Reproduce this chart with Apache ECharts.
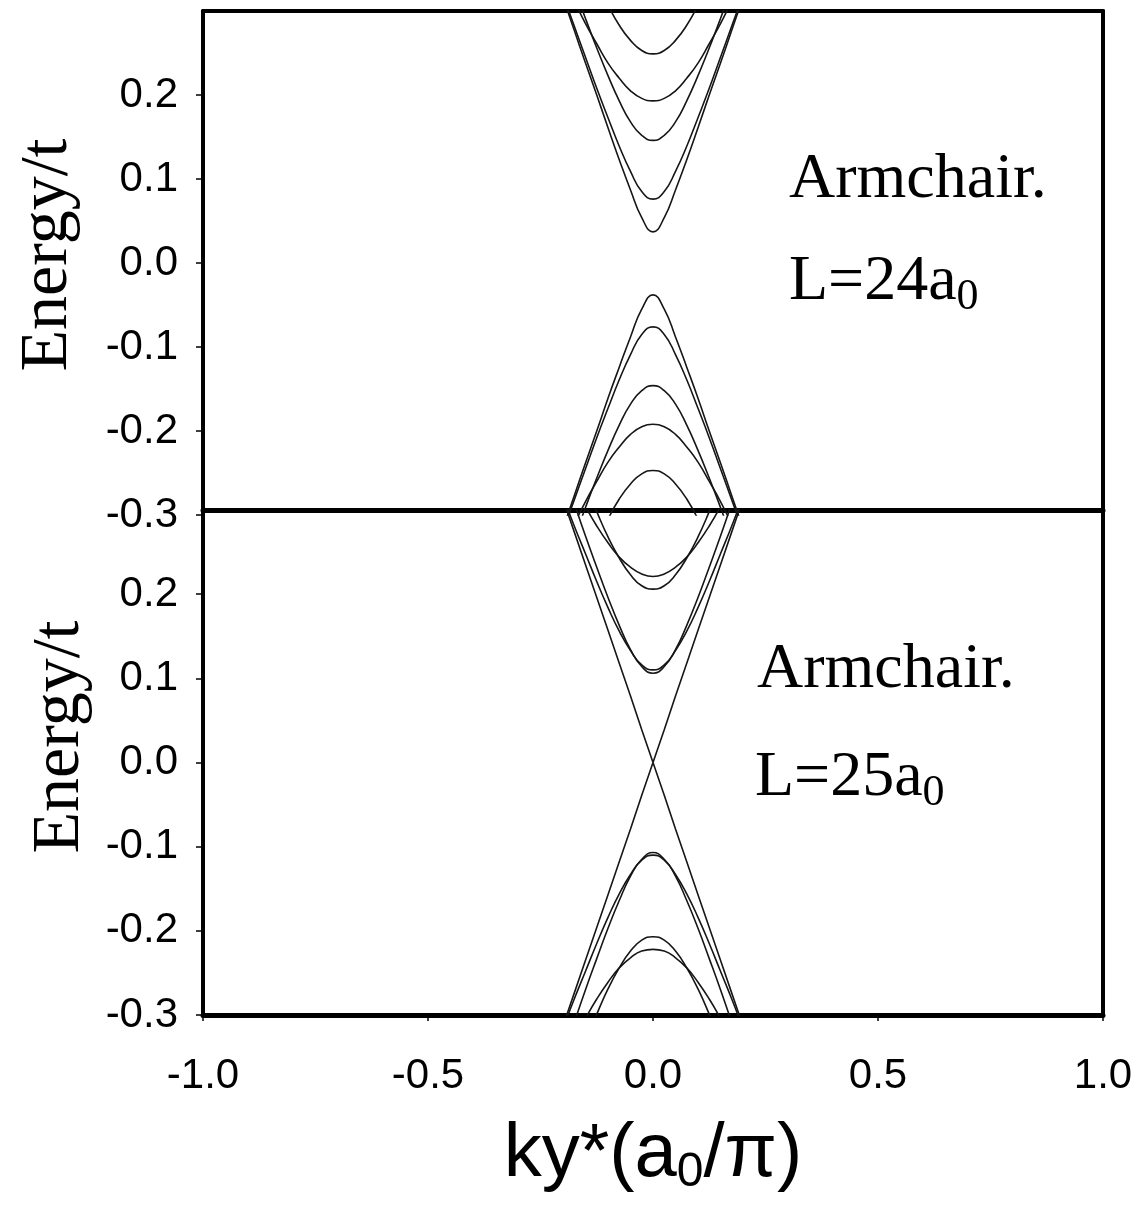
<!DOCTYPE html>
<html>
<head>
<meta charset="utf-8">
<script src="https://cdn.jsdelivr.net/npm/echarts@6/dist/echarts.min.js"></script>
<style>
  html, body { margin: 0; padding: 0; background: #fff; }
  #chart { width: 1141px; height: 1208px; }
</style>
</head>
<body>
<div id="chart"></div>
<script>
// ky*(a0/pi) sample points
var kGrid = [-0.2, -0.175, -0.15, -0.125, -0.1, -0.075, -0.05, -0.025, 0,
             0.025, 0.05, 0.075, 0.1, 0.125, 0.15, 0.175, 0.2];

// L = 24 a0, conduction bands
var c24_1 = [0.316, 0.277, 0.238, 0.200, 0.161, 0.123, 0.087, 0.054, 0.037, 0.054, 0.087, 0.123, 0.161, 0.200, 0.238, 0.277, 0.316];
var c24_2 = [0.319, 0.282, 0.245, 0.208, 0.173, 0.139, 0.109, 0.085, 0.076, 0.085, 0.109, 0.139, 0.173, 0.208, 0.245, 0.282, 0.319];
var c24_3 = [null, 0.328, 0.291, 0.256, 0.223, 0.193, 0.168, 0.152, 0.146, 0.152, 0.168, 0.193, 0.223, 0.256, 0.291, 0.328, null];
var c24_4 = [null, 0.312, 0.285, 0.261, 0.238, 0.220, 0.205, 0.196, 0.193, 0.196, 0.205, 0.220, 0.238, 0.261, 0.285, 0.312, null];
var c24_5 = [null, null, null, null, 0.307, 0.283, 0.265, 0.253, 0.249, 0.253, 0.265, 0.283, 0.307, null, null, null, null];
// L = 24 a0, valence bands
var v24_1 = [-0.316, -0.277, -0.238, -0.200, -0.161, -0.124, -0.088, -0.055, -0.038, -0.055, -0.088, -0.124, -0.161, -0.200, -0.238, -0.277, -0.316];
var v24_2 = [-0.319, -0.282, -0.245, -0.208, -0.173, -0.139, -0.109, -0.085, -0.076, -0.085, -0.109, -0.139, -0.173, -0.208, -0.245, -0.282, -0.319];
var v24_3 = [null, -0.328, -0.291, -0.256, -0.223, -0.193, -0.168, -0.152, -0.146, -0.152, -0.168, -0.193, -0.223, -0.256, -0.291, -0.328, null];
var v24_4 = [null, -0.311, -0.284, -0.260, -0.237, -0.219, -0.204, -0.195, -0.192, -0.195, -0.204, -0.219, -0.237, -0.260, -0.284, -0.311, null];
var v24_5 = [null, null, null, null, -0.305, -0.281, -0.263, -0.251, -0.247, -0.251, -0.263, -0.281, -0.305, null, null, null, null];

// L = 25 a0, conduction bands
var c25_0 = [0.313, 0.274, 0.235, 0.196, 0.157, 0.118, 0.079, 0.039, 0.000, 0.039, 0.079, 0.118, 0.157, 0.196, 0.235, 0.274, 0.313];
var c25_1 = [null, 0.308, 0.269, 0.232, 0.196, 0.163, 0.134, 0.114, 0.106, 0.114, 0.134, 0.163, 0.196, 0.232, 0.269, 0.308, null];
var c25_2 = [0.316, 0.281, 0.248, 0.215, 0.184, 0.156, 0.133, 0.116, 0.110, 0.116, 0.133, 0.156, 0.184, 0.215, 0.248, 0.281, 0.316];
var c25_3 = [null, null, 0.330, 0.298, 0.268, 0.243, 0.223, 0.210, 0.206, 0.210, 0.223, 0.243, 0.268, 0.298, 0.330, null, null];
var c25_4 = [null, 0.329, 0.304, 0.281, 0.261, 0.244, 0.232, 0.224, 0.221, 0.224, 0.232, 0.244, 0.261, 0.281, 0.304, 0.329, null];
// L = 25 a0, valence bands
var v25_0 = [-0.313, -0.274, -0.235, -0.196, -0.157, -0.118, -0.079, -0.039, 0.000, -0.039, -0.079, -0.118, -0.157, -0.196, -0.235, -0.274, -0.313];
var v25_1 = [null, -0.309, -0.270, -0.233, -0.197, -0.164, -0.135, -0.115, -0.107, -0.115, -0.135, -0.164, -0.197, -0.233, -0.270, -0.309, null];
var v25_2 = [-0.316, -0.281, -0.248, -0.215, -0.184, -0.156, -0.133, -0.116, -0.110, -0.116, -0.133, -0.156, -0.184, -0.215, -0.248, -0.281, -0.316];
var v25_3 = [null, null, -0.331, -0.299, -0.269, -0.244, -0.224, -0.211, -0.207, -0.211, -0.224, -0.244, -0.269, -0.299, -0.331, null, null];
var v25_4 = [null, -0.329, -0.304, -0.281, -0.261, -0.244, -0.232, -0.224, -0.222, -0.224, -0.232, -0.244, -0.261, -0.281, -0.304, -0.329, null];

var yTicks = [-0.3, -0.2, -0.1, 0, 0.1, 0.2];
var xTicks = [-1.0, -0.5, 0.0, 0.5, 1.0];

var bandsTop = [c24_1, c24_2, c24_3, c24_4, c24_5, v24_1, v24_2, v24_3, v24_4, v24_5];
var bandsBottom = [c25_1, c25_2, c25_3, c25_4, v25_1, v25_2, v25_3, v25_4];
var linearBottom = [c25_0, v25_0];

function band(vals, xi, yi, smooth) {
	return {
		type : 'line',
		xAxisIndex : xi,
		yAxisIndex : yi,
		data : kGrid.map(function(k, i) { return [k, vals[i]]; })
			.filter(function(p) { return p[1] !== null; }),
		symbol : 'none',
		smooth : smooth,
		silent : true,
		lineStyle : { color : '#161616', width : 1.6 }
	};
}

var series = [];
bandsTop.forEach(function(b) { series.push(band(b, 0, 0, true)); });
bandsBottom.forEach(function(b) { series.push(band(b, 2, 2, true)); });
linearBottom.forEach(function(b) { series.push(band(b, 2, 2, false)); });

var fmt1 = function(v) { return Number(v).toFixed(1); };
var tickFont = { fontFamily : 'Liberation Sans', fontSize : 42, color : '#000' };

// plain frame side: line only
function frameAxis(pos, grid, width, isX) {
	return {
		type : 'value', gridIndex : grid, position : pos,
		min : isX ? -1 : -0.3, max : isX ? 1 : 0.3,
		axisLine : { show : true, onZero : false, lineStyle : { color : '#000', width : width } },
		axisTick : { show : false }, axisLabel : { show : false },
		splitLine : { show : false }
	};
}

function yMain(grid) {
	return {
		type : 'value', gridIndex : grid, position : 'left',
		min : -0.3, max : 0.3, interval : 0.1,
		axisLine : { show : true, onZero : false, lineStyle : { color : '#000', width : 4 } },
		axisTick : { show : true, length : 7, customValues : yTicks,
			lineStyle : { color : '#000', width : 1.5 } },
		axisLabel : Object.assign({ margin : 25, customValues : yTicks, formatter : fmt1 }, tickFont),
		splitLine : { show : false }
	};
}

var option = {
	animation : false,
	backgroundColor : '#ffffff',
	grid : [
		{ left : 203, top : 11, width : 900, height : 504 },
		{ left : 203, top : 510, width : 900, height : 505 }
	],
	xAxis : [
		{ type : 'value', gridIndex : 0, min : -1, max : 1, show : false },
		frameAxis('top', 0, 4, true),
		{
			type : 'value', gridIndex : 1, position : 'bottom',
			min : -1, max : 1, interval : 0.5,
			axisLine : { show : true, onZero : false, lineStyle : { color : '#000', width : 5 } },
			axisTick : { show : true, length : 6, customValues : xTicks,
				lineStyle : { color : '#000', width : 1.5 } },
			axisLabel : Object.assign({ margin : 40, customValues : xTicks, formatter : fmt1 }, tickFont),
			splitLine : { show : false }
		},
		frameAxis('top', 1, 5, true)
	],
	yAxis : [
		yMain(0),
		frameAxis('right', 0, 4, false),
		yMain(1),
		frameAxis('right', 1, 4, false)
	],
	graphic : [
		{ type : 'text', x : 48, y : 255, rotation : Math.PI / 2,
			style : { text : 'Energy/t', font : '68px "Liberation Serif"', fill : '#000',
				align : 'center', verticalAlign : 'middle' } },
		{ type : 'text', x : 60, y : 737, rotation : Math.PI / 2,
			style : { text : 'Energy/t', font : '68px "Liberation Serif"', fill : '#000',
				align : 'center', verticalAlign : 'middle' } },
		{ type : 'text', x : 789, y : 180,
			style : { text : 'Armchair.', font : '64px "Liberation Serif"', fill : '#000',
				align : 'left', verticalAlign : 'middle' } },
		{ type : 'text', x : 789, y : 282,
			style : { text : '{m|L=24a}{s|0}', fill : '#000', align : 'left', verticalAlign : 'middle',
				rich : {
					m : { fontFamily : 'Liberation Serif', fontSize : 64 },
					s : { fontFamily : 'Liberation Serif', fontSize : 44, padding : [30, 0, 0, 0] }
				} } },
		{ type : 'text', x : 757, y : 670,
			style : { text : 'Armchair.', font : '64px "Liberation Serif"', fill : '#000',
				align : 'left', verticalAlign : 'middle' } },
		{ type : 'text', x : 755, y : 778,
			style : { text : '{m|L=25a}{s|0}', fill : '#000', align : 'left', verticalAlign : 'middle',
				rich : {
					m : { fontFamily : 'Liberation Serif', fontSize : 64 },
					s : { fontFamily : 'Liberation Serif', fontSize : 44, padding : [30, 0, 0, 0] }
				} } },
		{ type : 'text', x : 653, y : 1155,
			style : { text : '{m|ky*(a}{s|0}{m|/π)}', fill : '#000', align : 'center', verticalAlign : 'middle',
				rich : {
					m : { fontFamily : 'Liberation Sans', fontSize : 76 },
					s : { fontFamily : 'Liberation Sans', fontSize : 48, padding : [36, 0, 0, 0] }
				} } }
	],
	series : series
};

var chart = echarts.init(document.getElementById('chart'));
chart.setOption(option);
</script>
</body>
</html>
